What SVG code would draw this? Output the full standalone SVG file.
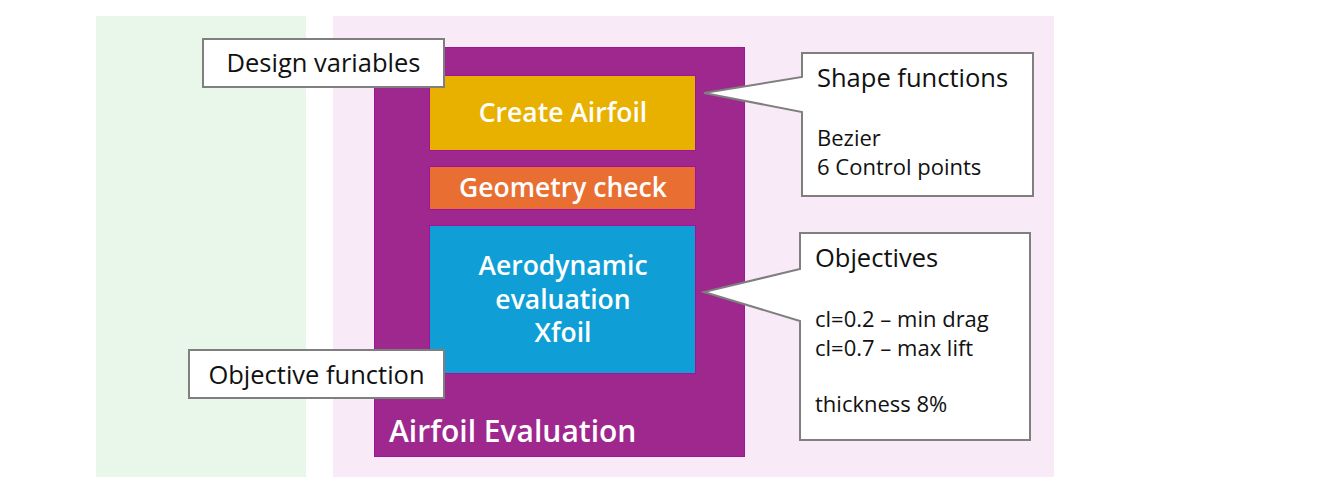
<svg xmlns="http://www.w3.org/2000/svg" width="1338" height="491" viewBox="0 0 1338 491">
<style>
.lbl{font-family:"Open Sans","Noto Sans","Liberation Sans",sans-serif;fill:#111;}
.wt{font-family:"Open Sans","Noto Sans","Liberation Sans",sans-serif;fill:#fff;font-weight:600;}
.box{fill:#fff;stroke:#7f7f7f;stroke-width:2;}
</style>
<rect width="1338" height="491" fill="#fff"/>
<g id="panel-left"><rect x="96" y="16" width="210" height="461" fill="#E8F7EA"/></g>
<g id="panel-right"><rect x="333" y="16" width="721" height="461" fill="#F9EAF8"/></g>
<g id="airfoil-evaluation">
<rect x="374.5" y="47.5" width="370" height="409" fill="#9E288E" stroke="#A0149B" stroke-width="1"/>
<text class="wt" x="389" y="442" font-size="30">Airfoil Evaluation</text>
</g>
<g id="create-airfoil">
<rect x="429.5" y="75.5" width="266" height="75" fill="#E8B100" stroke="#A0149B" stroke-width="1"/>
<text class="wt" x="563" y="122" font-size="26.5" text-anchor="middle">Create Airfoil</text>
</g>
<g id="geometry-check">
<rect x="429.5" y="166.5" width="266" height="43" fill="#E86F31" stroke="#A0149B" stroke-width="1"/>
<text class="wt" x="563" y="197" font-size="26.5" text-anchor="middle">Geometry check</text>
</g>
<g id="aero-eval">
<rect x="429.5" y="225.5" width="266" height="148" fill="#109ED6" stroke="#A0149B" stroke-width="1"/>
<text class="wt" x="563" y="275" font-size="26.5" text-anchor="middle">Aerodynamic</text>
<text class="wt" x="563" y="309" font-size="26.5" text-anchor="middle">evaluation</text>
<text class="wt" x="563" y="342" font-size="26.5" text-anchor="middle">Xfoil</text>
</g>
<g id="design-variables">
<rect class="box" x="203" y="39" width="241" height="48"/>
<text class="lbl" x="323.5" y="72" font-size="25.5" text-anchor="middle">Design variables</text>
</g>
<g id="objective-function">
<rect class="box" x="189" y="350" width="255" height="48"/>
<text class="lbl" x="316.5" y="384" font-size="25.5" text-anchor="middle">Objective function</text>
</g>
<g id="connectors">
<path id="callout-shape" class="box" d="M802,53 H1033 V196 H802 V112 L704,93 L802,77 Z"/>
<path id="callout-obj" class="box" d="M800,233 H1030 V440 H800 V321 L704,292 L800,269 Z"/>
</g>
<g id="shape-functions-text">
<text class="lbl" x="817" y="87" font-size="25.5">Shape functions</text>
<text class="lbl" x="817" y="146" font-size="22">Bezier</text>
<text class="lbl" x="817" y="175" font-size="22">6 Control points</text>
</g>
<g id="objectives-text">
<text class="lbl" x="815" y="267" font-size="25.5">Objectives</text>
<text class="lbl" x="815" y="327" font-size="22">cl=0.2 – min drag</text>
<text class="lbl" x="815" y="356" font-size="22">cl=0.7 – max lift</text>
<text class="lbl" x="815" y="412" font-size="22">thickness 8%</text>
</g>
</svg>
